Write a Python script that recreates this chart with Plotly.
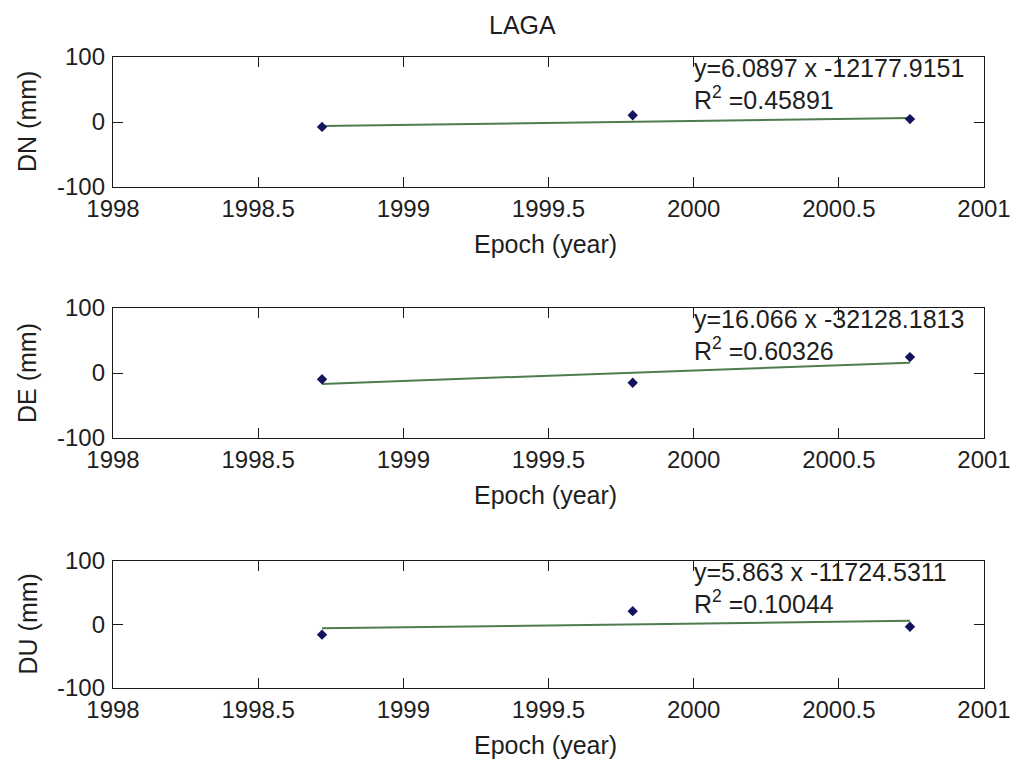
import plotly.graph_objects as go

# Station and component names
station = "LAGA"
components = ["DN", "DE", "DU"]

# Observation epochs (decimal year) and displacements (mm)
epochs = [1998.72, 1999.79, 2000.745]
dn = [-7.5, 10.5, 4.5]
de = [-9.5, -15.0, 24.5]
du = [-16.0, 21.0, -3.5]
series = [dn, de, du]

# Linear fit results: slope (mm/yr), intercept (mm), R^2
slopes = [6.0897, 16.066, 5.863]
intercepts = [-12177.9151, -32128.1813, -11724.5311]
slope_txt = ["6.0897", "16.066", "5.863"]
icpt_txt = ["12177.9151", "32128.1813", "11724.5311"]
r2_txt = ["0.45891", "0.60326", "0.10044"]

# Axis ticks
x_ticks = [1998, 1998.5, 1999, 1999.5, 2000, 2000.5, 2001]
x_tick_text = ["1998", "1998.5", "1999", "1999.5", "2000", "2000.5", "2001"]
y_ticks = [-100, 0, 100]
y_tick_text = ["-100", "0", "100"]

W, H = 1011, 763
FONT = "Liberation Sans, Arial, sans-serif"
TXT = "#1e1e1e"
FS = 25       # titles and text
FS_TICK = 24  # tick labels

def px_x(p):
    return p / W

def px_y(p):
    return 1 - p / H

# panel boxes in pixels: (top, bottom)
boxes = [(57, 187), (308, 438), (561, 688)]
left, right = 113, 984

fig = go.Figure()
layout = dict(
    width=W, height=H,
    margin=dict(l=0, r=0, t=0, b=0, autoexpand=False),
    paper_bgcolor="white", plot_bgcolor="white",
    showlegend=False,
    font=dict(family=FONT, size=FS, color=TXT),
)
annotations = []

for i, (comp, ys) in enumerate(zip(components, series)):
    n = "" if i == 0 else str(i + 1)
    xa, ya = "x" + n, "y" + n
    top, bot = boxes[i]

    fx = [epochs[0], epochs[-1]]
    fy = [slopes[i] * x + intercepts[i] for x in fx]

    fig.add_trace(go.Scatter(
        x=fx, y=fy, mode="lines", xaxis=xa, yaxis=ya,
        line=dict(color="#4d7d4f", width=2), hoverinfo="skip"))
    fig.add_trace(go.Scatter(
        x=epochs, y=ys, mode="markers", xaxis=xa, yaxis=ya,
        marker=dict(symbol="diamond", size=8, color="#13135e")))

    common = dict(
        showline=True, linecolor="#1a1a1a", linewidth=1.3, mirror="ticks",
        ticks="inside", ticklen=10, tickcolor="#1a1a1a", tickwidth=1.3,
        showgrid=False, zeroline=False, automargin=False,
        tickfont=dict(family=FONT, size=FS_TICK, color=TXT),
    )
    layout["xaxis" + n] = dict(
        common, domain=[px_x(left), px_x(right)], range=[1998, 2001],
        tickvals=x_ticks, ticktext=x_tick_text, anchor=ya,
        ticklabelstandoff=0,
    )
    layout["yaxis" + n] = dict(
        common, domain=[px_y(bot), px_y(top)], range=[-100, 100],
        tickvals=y_ticks, ticktext=y_tick_text, anchor=xa,
        ticklabelstandoff=2,
    )

    # axis titles
    annotations.append(dict(
        text=f"{comp} (mm)", xref="paper", yref="paper",
        x=px_x(27), y=px_y((top + bot) / 2), textangle=-90,
        showarrow=False, xanchor="center", yanchor="middle",
        font=dict(family=FONT, size=FS, color=TXT)))
    annotations.append(dict(
        text="Epoch (year)", xref="paper", yref="paper",
        x=px_x(545), y=px_y(bot + 57), showarrow=False,
        xanchor="center", yanchor="middle",
        font=dict(family=FONT, size=FS, color=TXT)))

    # regression equation
    annotations.append(dict(
        text=f"y={slope_txt[i]} x -{icpt_txt[i]}", xref="paper", yref="paper",
        x=px_x(692), y=px_y(top + 11), showarrow=False,
        xanchor="left", yanchor="middle",
        font=dict(family=FONT, size=FS, color=TXT)))
    annotations.append(dict(
        text="R<sup>2</sup> =" + r2_txt[i], xref="paper", yref="paper",
        x=px_x(692), y=px_y(top + 41), showarrow=False,
        xanchor="left", yanchor="middle",
        font=dict(family=FONT, size=FS, color=TXT)))

annotations.append(dict(
    text=station, xref="paper", yref="paper",
    x=px_x(522), y=px_y(25), showarrow=False,
    xanchor="center", yanchor="middle",
    font=dict(family=FONT, size=FS, color=TXT)))

layout["annotations"] = annotations
fig.update_layout(**layout)
fig.write_html("out.html")
